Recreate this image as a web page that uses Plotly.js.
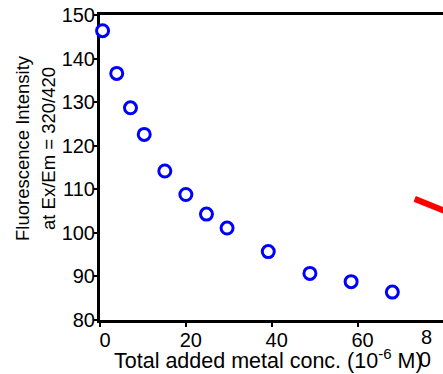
<!DOCTYPE html>
<html>
<head>
<meta charset="utf-8">
<script src="https://cdn.plot.ly/plotly-3.0.1.min.js"></script>
<style>
html,body{margin:0;padding:0;background:#fff;overflow:hidden;}
#chart{width:443px;height:374px;}
</style>
</head>
<body>
<div id="chart"></div>
<script>
// Blue open circles: measured fluorescence
const metalConc = [0.6, 3.9, 7.1, 10.3, 15.1, 20.0, 24.8, 29.6, 39.2, 48.9, 58.5, 68.1];
const intensity = [146.4, 136.6, 128.7, 122.6, 114.2, 108.8, 104.3, 101.1, 95.7, 90.7, 88.8, 86.4];
// Red line (partially visible at right edge)
const fitX = [73.3, 90];
const fitY = [107.8, 101.2];
// Axis ticks
const xTicks = [0, 20, 40, 60];
const yTicks = [80, 90, 100, 110, 120, 130, 140, 150];
// Texts
const xTitle = 'Total added metal conc. (10<sup>-6</sup> M)';
const yTitleLines = ['Fluorescence Intensity', 'at Ex/Em = 320/420'];

const FONT = 'Liberation Sans, Arial, Helvetica, sans-serif';
const L = 100, W = 343, T = 15, H = 305;
const px = v => (v - L) / W;          // pixel x -> paper x
const py = v => (T + H - v) / H;      // pixel y -> paper y

const traces = [
  {
    x: fitX, y: fitY, type: 'scatter', mode: 'lines',
    line: {color: '#ff0000', width: 6},
    hoverinfo: 'skip', showlegend: false
  },
  {
    x: metalConc, y: intensity, type: 'scatter', mode: 'markers',
    marker: {symbol: 'circle', size: 12, color: '#ffffff', line: {color: '#0000ff', width: 3}},
    cliponaxis: false, showlegend: false
  }
];

const layout = {
  width: 443, height: 374,
  margin: {l: L, r: 0, t: T, b: 374 - T - H},
  paper_bgcolor: '#ffffff', plot_bgcolor: '#ffffff',
  font: {family: FONT, color: '#000000', size: 20},
  showlegend: false,
  xaxis: {
    range: [0, 79.9], tickvals: xTicks, ticktext: xTicks.map(String),
    ticks: 'outside', ticklen: 4, tickwidth: 2, tickcolor: '#000',
    showline: true, linecolor: '#000', linewidth: 3, mirror: true,
    showgrid: false, zeroline: false, layer: 'below traces',
    tickfont: {size: 20}, ticklabelshift: 5, ticklabelstandoff: -4,
    automargin: false
  },
  yaxis: {
    range: [80, 150], tickvals: yTicks, ticktext: yTicks.map(String),
    ticks: 'outside', ticklen: 4, tickwidth: 2, tickcolor: '#000',
    showline: true, linecolor: '#000', linewidth: 3, mirror: false,
    showgrid: false, zeroline: false, layer: 'below traces',
    tickfont: {size: 20}, ticklabelstandoff: -6,
    automargin: false
  },
  annotations: [
    {xref: 'paper', yref: 'paper', x: px(22), y: py(148), text: yTitleLines[0], textangle: -90,
     showarrow: false, xanchor: 'center', yanchor: 'middle', font: {size: 18.5}},
    {xref: 'paper', yref: 'paper', x: px(48), y: py(149), text: yTitleLines[1], textangle: -90,
     showarrow: false, xanchor: 'center', yanchor: 'middle', font: {size: 18.5}},
    {xref: 'paper', yref: 'paper', x: px(268), y: py(359), text: xTitle,
     showarrow: false, xanchor: 'center', yanchor: 'middle', font: {size: 21.5}},
    {xref: 'paper', yref: 'paper', x: px(426.5), y: py(337), text: '8',
     showarrow: false, xanchor: 'center', yanchor: 'middle', font: {size: 20}},
    {xref: 'paper', yref: 'paper', x: px(425), y: py(360), text: '0',
     showarrow: false, xanchor: 'center', yanchor: 'middle', font: {size: 21.5}}
  ]
};

Plotly.newPlot('chart', traces, layout, {displayModeBar: false, staticPlot: true});
</script>
</body>
</html>
